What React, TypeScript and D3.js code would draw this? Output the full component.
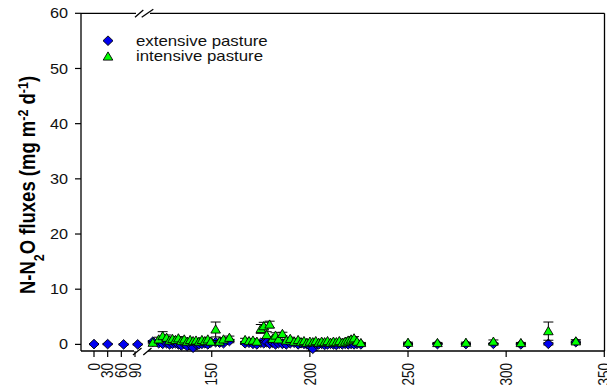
import React from "react";
import * as d3 from "d3";

const days = [
  0, 30, 65, 97,
  120, 123, 125, 127, 128.5, 130, 131.5, 133, 134.5, 136, 137.5, 139, 140.5, 142, 143.5, 145, 146.5, 148, 149.5, 152, 154, 156, 159,
  167, 169, 171, 173, 175, 176.5, 178, 179.5, 181, 182.5, 184, 186, 188, 190,
  192, 194, 195.5, 197, 198.5, 200, 201.5, 203, 204.5, 206, 207.5, 209, 210.5, 212, 213.5, 215, 216.5, 218, 219.5, 221, 222.5, 224, 226,
  250, 265, 279.5, 293.5, 307.5, 321.5, 335.5,
];

const extensive = [
  0.05, 0.05, 0.0, 0.0,
  0.5, 0.2, 0.1, 0.2, 0.0, 0.1, 0.2, 0.0, -0.2, 0.1, -0.3, 0.0, -0.6, 0.1, 0.0, 0.1, 0.2, 0.0, 0.3, 0.4, 0.3, 0.2, 0.6,
  0.2, 0.3, 0.1, 0.0, 0.3, 0.2, 0.4, 0.1, 0.3, 0.0, 0.2, 0.1, 0.0, 0.2,
  0.3, 0.0, 0.2, 0.1, 0.0, -0.3, -0.8, 0.1, 0.0, 0.1, -0.1, 0.0, 0.1, 0.0, -0.1, 0.1, 0.0, 0.1, 0.0, 0.1, 0.0, 0.1, 0.0,
  0.05, 0.05, 0.05, 0.1, 0.0, 0.1, 0.4,
];

const extensiveErr = [
  0.1, 0.1, 0.1, 0.1,
  0.2, 0.2, 0.2, 0.2, 0.2, 0.2, 0.2, 0.2, 0.2, 0.2, 0.2, 0.2, 0.3, 0.2, 0.2, 0.2, 0.2, 0.2, 0.2, 0.2, 0.2, 0.2, 0.3,
  0.2, 0.2, 0.2, 0.2, 0.3, 0.3, 0.3, 0.2, 0.2, 0.2, 0.2, 0.2, 0.2, 0.2,
  0.2, 0.2, 0.2, 0.2, 0.2, 0.2, 0.3, 0.2, 0.2, 0.2, 0.2, 0.2, 0.2, 0.2, 0.2, 0.2, 0.2, 0.2, 0.2, 0.2, 0.2, 0.2, 0.2,
  0.1, 0.1, 0.1, 0.1, 0.1, 0.2, 0.2,
];

const intensive: (number | null)[] = [
  null, null, null, null,
  0.3, 0.9, 1.5, 1.2, 0.7, 1.0, 0.8, 1.1, 0.6, 0.9, 0.5, 0.8, 0.6, 0.7, 0.5, 0.8, 0.6, 0.9, 0.5, 2.7, 0.5, 0.9, 1.2,
  0.8, 0.6, 0.7, 0.5, 2.8, 3.3, 1.7, 3.6, 1.0, 1.6, 0.9, 1.9, 0.7, 1.0,
  0.5, 0.8, 0.4, 0.6, 0.3, 0.5, 0.4, 0.6, 0.3, 0.5, 0.4, 0.6, 0.3, 0.5, 0.4, 0.6, 0.3, 0.5, 0.7, 0.9, 1.1, 0.5, 0.25,
  0.3, 0.25, 0.3, 0.5, 0.25, 2.4, 0.55,
];

const intensiveErr = [
  0, 0, 0, 0,
  0.2, 0.4, 0.8, 0.5, 0.3, 0.3, 0.3, 0.3, 0.2, 0.2, 0.2, 0.2, 0.2, 0.2, 0.2, 0.2, 0.2, 0.2, 0.2, 1.35, 0.2, 0.3, 0.3,
  0.3, 0.2, 0.3, 0.2, 0.8, 0.7, 0.6, 0.6, 0.4, 0.5, 0.3, 0.3, 0.2, 0.3,
  0.2, 0.2, 0.2, 0.2, 0.2, 0.2, 0.2, 0.2, 0.2, 0.2, 0.2, 0.3, 0.2, 0.2, 0.2, 0.3, 0.2, 0.2, 0.3, 0.3, 0.3, 0.2, 0.1,
  0.1, 0.1, 0.1, 0.3, 0.1, 1.65, 0.3,
];

const yTicks = [0, 10, 20, 30, 40, 50, 60];
const xTicks = [0, 30, 60, 90, 150, 200, 250, 300, 350];
const seriesNames = ["extensive pasture", "intensive pasture"];

const FONT = "'Liberation Sans', Arial, sans-serif";
const BLUE = "#0000f0";
const GREEN = "#00ff00";
const SX = 1.16;

const diamond = "M0,-4.8L5,0L0,4.8L-5,0Z";
const triangle = "M0,-4.6L4.8,3.6L-4.8,3.6Z";

export default function App() {
  const width = 607;
  const height = 389;
  const left = 81;
  const right = 604.5;
  const top = 13.3;
  const bottom = 351;

  const y = d3.scaleLinear().domain([-1.2, 60]).range([bottom, top]);
  const x = d3.scaleLinear().domain([0, 90, 116, 350]).range([94, 135, 145, 604.3]);

  const breakL = 136;
  const breakR = 146;

  const errBar = (cx: number, v: number, e: number, key: string) => {
    if (!e) return null;
    const y1 = y(v + e);
    const y2 = y(v - e);
    return (
      <g key={key} stroke="#000" strokeWidth={1}>
        <line x1={cx} x2={cx} y1={y1} y2={y2} />
        <line x1={cx - 5} x2={cx + 5} y1={y1} y2={y1} />
        <line x1={cx - 5} x2={cx + 5} y1={y2} y2={y2} />
      </g>
    );
  };

  return (
    <svg width={width} height={height} style={{ position: "absolute", left: 0, top: 0 }} fontFamily={FONT}>
      <rect width={width} height={height} fill="#fff" />
      <g stroke="#000" strokeWidth={1.3} fill="none">
        <line x1={left} x2={left} y1={top} y2={bottom} />
        <line x1={right} x2={right} y1={top} y2={bottom} />
        <line x1={left} x2={breakL} y1={top} y2={top} />
        <line x1={breakR + 4} x2={right} y1={top} y2={top} />
        <line x1={left} x2={breakL - 2} y1={bottom} y2={bottom} />
        <line x1={breakR + 2} x2={right} y1={bottom} y2={bottom} />
        <line x1={135} y1={17.3} x2={143.3} y2={10} />
        <line x1={141.7} y1={17.3} x2={153.3} y2={9.3} />
        <line x1={133} y1={355} x2={141.5} y2={348} />
        <line x1={143.3} y1={355} x2={151.5} y2={348} />
      </g>
      {yTicks.map((t) => (
        <g key={t}>
          <line x1={left - 6} x2={left} y1={y(t)} y2={y(t)} stroke="#000" strokeWidth={1.2} />
          <text
            transform={`translate(68,${y(t)}) scale(${SX},1)`}
            dy="0.36em"
            textAnchor="end"
            fontSize={14}
            fill="#111"
          >
            {t}
          </text>
        </g>
      ))}
      {xTicks.map((t) => (
        <g key={t}>
          <line x1={x(t)} x2={x(t)} y1={bottom} y2={bottom + 6} stroke="#000" strokeWidth={1.2} />
          <text
            transform={`translate(${x(t)},${bottom + 12}) scale(${SX},1) rotate(-90)`}
            dy="0.36em"
            textAnchor="end"
            fontSize={13.5}
            fill="#111"
          >
            {t}
          </text>
        </g>
      ))}
      <text
        transform={`translate(35,185) scale(${SX},1) rotate(-90)`}
        textAnchor="middle"
        fontSize={18.5}
        fontWeight="bold"
        fill="#000"
      >
        N-N<tspan baselineShift="sub" fontSize={12.5}>2</tspan>O fluxes (mg m
        <tspan baselineShift="super" fontSize={12.5}>-2</tspan> d
        <tspan baselineShift="super" fontSize={12.5}>-1</tspan>)
      </text>
      {days.map((d, i) => errBar(x(d), extensive[i], extensiveErr[i], "ee" + i))}
      {days.map((d, i) => (
        <path
          key={"e" + i}
          d={diamond}
          transform={`translate(${x(d)},${y(extensive[i])})`}
          fill={BLUE}
          stroke="#000"
          strokeWidth={0.9}
        />
      ))}
      {days.map((d, i) =>
        intensive[i] == null ? null : errBar(x(d), intensive[i] as number, intensiveErr[i], "ie" + i)
      )}
      {days.map((d, i) =>
        intensive[i] == null ? null : (
          <path
            key={"i" + i}
            d={triangle}
            transform={`translate(${x(d)},${y(intensive[i] as number)})`}
            fill={GREEN}
            stroke="#000"
            strokeWidth={0.9}
          />
        )
      )}
      <path d={diamond} transform="translate(108,40.7)" fill={BLUE} stroke="#000" strokeWidth={0.9} />
      <text transform={`translate(136,45.5) scale(${SX},1)`} fontSize={14.5} fill="#111">{seriesNames[0]}</text>
      <path d={triangle} transform="translate(108,56.5)" fill={GREEN} stroke="#000" strokeWidth={0.9} />
      <text transform={`translate(136,61) scale(${SX},1)`} fontSize={14.5} fill="#111">{seriesNames[1]}</text>
    </svg>
  );
}
